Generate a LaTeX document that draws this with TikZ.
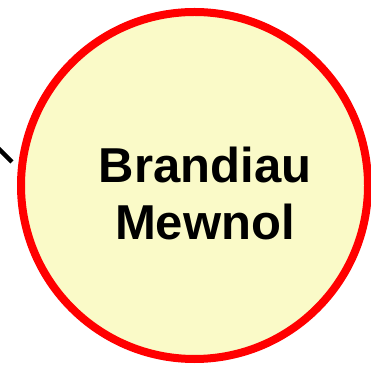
\documentclass[tikz,border=0pt]{standalone}
\usepackage{fontspec}
\setmainfont{Liberation Sans}
\usepackage{tikz}
\definecolor{ringred}{RGB}{255, 0, 0}
\definecolor{paleyellow}{RGB}{250, 250, 200}

\begin{document}
\begin{tikzpicture}[x=1pt, y=1pt,
    bubble/.style={circle, draw=ringred, fill=paleyellow, line width=8pt,
                   minimum size=347pt, inner sep=0pt},
    title/.style={align=center, font=\fontsize{49}{57}\selectfont\bfseries},
    link/.style={draw=black, line width=4.5pt}
]
    % Cadre
    \useasboundingbox (0,0) rectangle (371,369);
    \clip (0,0) rectangle (371,369);

    % Cercle
    \node[bubble] (brandiau) at (194.5,183.5) {};
    \node[title] (label) at (205,175.5) {Brandiau\\Mewnol};

    % Lien
    \coordinate (linkstart) at (-8,227);
    \coordinate (linkend) at (12,207);
    \draw[link] (linkstart) -- (linkend);
\end{tikzpicture}
\end{document}
